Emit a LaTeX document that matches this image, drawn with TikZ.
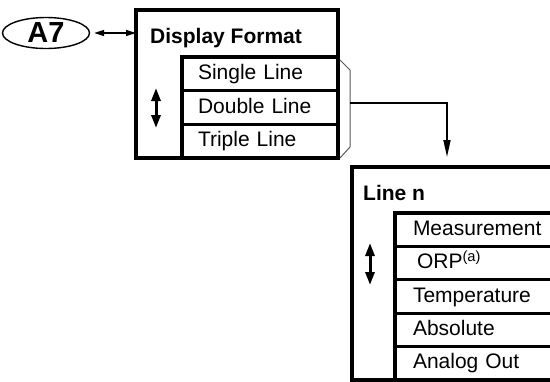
\documentclass[tikz,border=0pt]{standalone}
\usepackage{fontspec}
\setmainfont{Liberation Sans}
\usetikzlibrary{arrows.meta,positioning,shapes.geometric}

\begin{document}
\begin{tikzpicture}[x=1pt,y=-1pt,node distance=0pt,font=\fontsize{21}{25}\selectfont]
  \tikzstyle{frame}=[draw,rectangle,line width=3.3pt,outer sep=0pt,anchor=north west]
  \tikzstyle{title}=[anchor=west,inner sep=0pt,font=\fontsize{21}{25}\selectfont\bfseries]
  \tikzstyle{entry}=[draw,rectangle,line width=3.1pt,outer sep=0pt,align=left,
    text height=15pt,text depth=4pt]
  \tikzstyle{updown}=[line width=3pt,{Triangle[length=13pt,width=9pt]}-{Triangle[length=13pt,width=9pt]}]
  \useasboundingbox (0,0) rectangle (550,381);

  % menu A7
  \node[ellipse,draw,line width=1.4pt,inner sep=0pt,minimum width=87pt,minimum height=31pt,
    font=\fontsize{29}{30}\selectfont\bfseries] (a7) at (46,33) {A7};
  \node[frame,minimum width=202pt,minimum height=148pt] (fmt) at (136,10) {};
  \node[title] (fmttitle) at (150,38) {Display Format};
  \node[entry,anchor=north west,text width=124pt,inner xsep=16pt,minimum height=33.7pt] (single) at (182,57) {Single Line};
  \node[entry,text width=124pt,inner xsep=16pt,minimum height=33.7pt] (double) [below=of single] {Double Line};
  \node[entry,text width=124pt,inner xsep=16pt,minimum height=33.7pt] (triple) [below=of double] {Triple Line};
  \draw[updown] (156,88) -- (156,128);

  % submenu for each line
  \node[frame,minimum width=230pt,minimum height=213pt] (linen) at (352,167) {};
  \node[title] (linetitle) at (363,193) {Line n};
  \node[entry,anchor=north west,text width=150pt,inner xsep=18pt,minimum height=33.4pt] (meas) at (395,213) {Measurement};
  \node[entry,text width=150pt,inner xsep=18pt,minimum height=33.4pt] (orp) [below=of meas] {\hspace{4pt}ORP\textsuperscript{(a)}};
  \node[entry,text width=150pt,inner xsep=18pt,minimum height=33.4pt] (temp) [below=of orp] {Temperature};
  \node[entry,text width=150pt,inner xsep=18pt,minimum height=33.4pt] (abs) [below=of temp] {Absolute};
  \node[entry,text width=150pt,inner xsep=18pt,minimum height=33.4pt] (aout) [below=of abs] {Analog Out};
  \draw[updown] (370,243) -- (370,285);

  % links
  \coordinate (br) at (350,103);
  \draw[gray!70!black,line width=1pt] (340,60) -- (350,70) -- (350,147) -- (340,158);
  \draw[line width=1.5pt,{Triangle[length=10pt,width=6pt]}-{Triangle[length=10pt,width=6pt]},shorten <=4pt]
    (a7.east) -- (a7.east -| fmt.west);
  \draw[line width=1.7pt,-{Triangle[length=17pt,width=7pt]},shorten >=10pt]
    (br) -| ([xshift=95pt]linen.north west);
\end{tikzpicture}
\end{document}
